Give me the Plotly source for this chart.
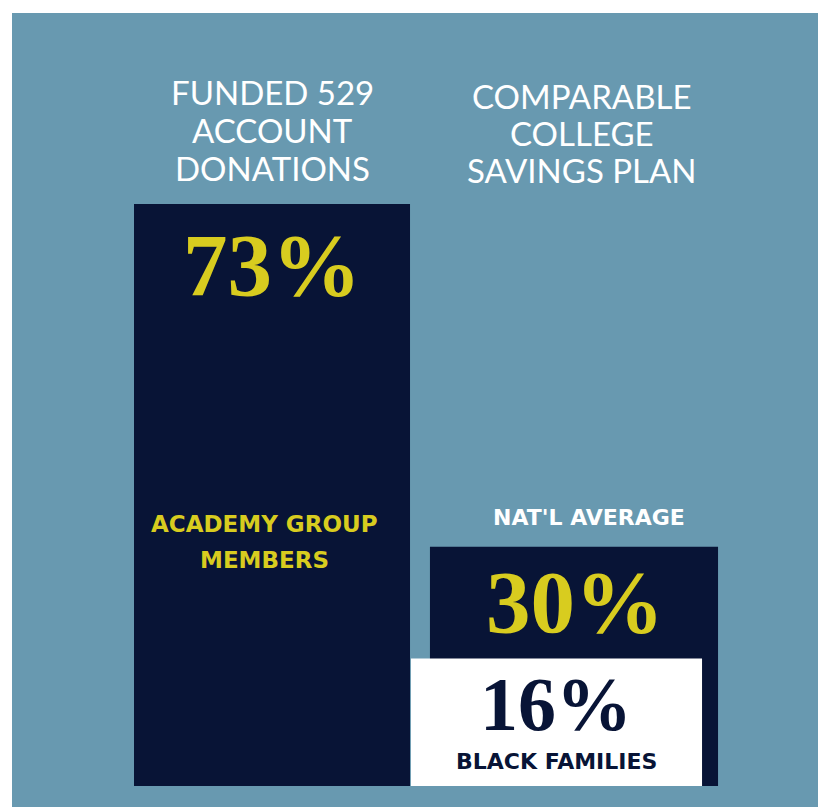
import plotly.graph_objects as go

# ---- data ----
groups = ["Academy Group Members", "National Average"]
group_title_lines = [["FUNDED 529", "ACCOUNT", "DONATIONS"],
                     ["COMPARABLE", "COLLEGE", "SAVINGS PLAN"]]
values = [73, 30]            # % funded
value_labels = ["73%", "30%"]
subgroup_label = "BLACK FAMILIES"
subgroup_value = 16          # % (national, Black families)
subgroup_value_label = "16%"

# ---- styling ----
BG_BLUE = "#6899B0"
NAVY = "#081436"
YELLOW = "#D8CC1F"
WHITE = "#FFFFFF"
W, H = 818, 807
ML, MT = 12, 13
SANS = "Lato, sans-serif"
BOLD_SANS = "'DejaVu Sans', sans-serif"
SERIF = "'Liberation Serif', 'DejaVu Serif', serif"

def py(p):
    """pixel y (from top of page) -> paper coordinate"""
    return (H - p) / (H - MT)

fig = go.Figure()
fig.add_trace(go.Bar(x=[groups[0]], y=[values[0]], width=[0.914], offset=-0.457,
                     marker=dict(color=NAVY, line=dict(width=0)), hoverinfo="skip"))
fig.add_trace(go.Bar(x=[groups[1]], y=[values[1]], width=[0.954], offset=-0.477,
                     marker=dict(color=NAVY, line=dict(width=0)), hoverinfo="skip"))
fig.add_trace(go.Bar(x=[groups[1]], y=[subgroup_value], width=[0.964], offset=-0.540,
                     marker=dict(color=WHITE, line=dict(width=0)), hoverinfo="skip"))

ann = []
# column titles, one annotation per line for tight line spacing
title_y = [[92, 130, 168], [96, 133, 170]]
title_dx = [0, 8]
for g in range(2):
    for line, yy in zip(group_title_lines[g], title_y[g]):
        ann.append(dict(x=groups[g], y=py(yy), xref="x", yref="paper", xshift=title_dx[g],
                        text=line, showarrow=False, yanchor="middle",
                        font=dict(family=SANS, size=33, color=WHITE, weight=400)))
# big numbers
ann.append(dict(x=groups[0], y=values[0], xref="x", yref="y", yshift=-61,
                text=value_labels[0], showarrow=False, yanchor="middle",
                font=dict(family=SERIF, size=89, color=YELLOW, weight=700)))
ann.append(dict(x=groups[1], y=values[1], xref="x", yref="y", yshift=-55, xshift=1,
                text=value_labels[1], showarrow=False, yanchor="middle",
                font=dict(family=SERIF, size=89, color=YELLOW, weight=700)))
ann.append(dict(x=groups[1], y=subgroup_value, xref="x", yref="y", yshift=-46, xshift=-18,
                text=subgroup_value_label, showarrow=False, yanchor="middle",
                font=dict(family=SERIF, size=76, color=NAVY, weight=700)))
# group labels
ann.append(dict(x=groups[0], y=py(524), xref="x", yref="paper", xshift=-8,
                text="ACADEMY GROUP", showarrow=False, yanchor="middle",
                font=dict(family=BOLD_SANS, size=23, color=YELLOW, weight=700)))
ann.append(dict(x=groups[0], y=py(560), xref="x", yref="paper", xshift=-8,
                text="MEMBERS", showarrow=False, yanchor="middle",
                font=dict(family=BOLD_SANS, size=23, color=YELLOW, weight=700)))
ann.append(dict(x=groups[1], y=values[1], xref="x", yref="y", yshift=29, xshift=15,
                text="NAT'L AVERAGE", showarrow=False, yanchor="middle",
                font=dict(family=BOLD_SANS, size=22, color=WHITE, weight=700)))
ann.append(dict(x=groups[1], y=0, xref="x", yref="y", yshift=25, xshift=-18,
                text=subgroup_label, showarrow=False, yanchor="middle",
                font=dict(family=BOLD_SANS, size=22, color=NAVY, weight=700)))

fig.update_layout(
    width=W, height=H,
    margin=dict(l=ML, r=0, t=MT, b=0, pad=0),
    paper_bgcolor=WHITE, plot_bgcolor=BG_BLUE,
    barmode="overlay", showlegend=False,
    xaxis=dict(type="category", range=[-0.861, 1.808], visible=False, fixedrange=True),
    yaxis=dict(range=[-2.634, 96.95], visible=False, fixedrange=True),
    annotations=ann,
)
fig.write_html("out.html", config=dict(displayModeBar=False),
               post_script="document.body.style.margin='0';document.body.style.overflow='hidden';")
